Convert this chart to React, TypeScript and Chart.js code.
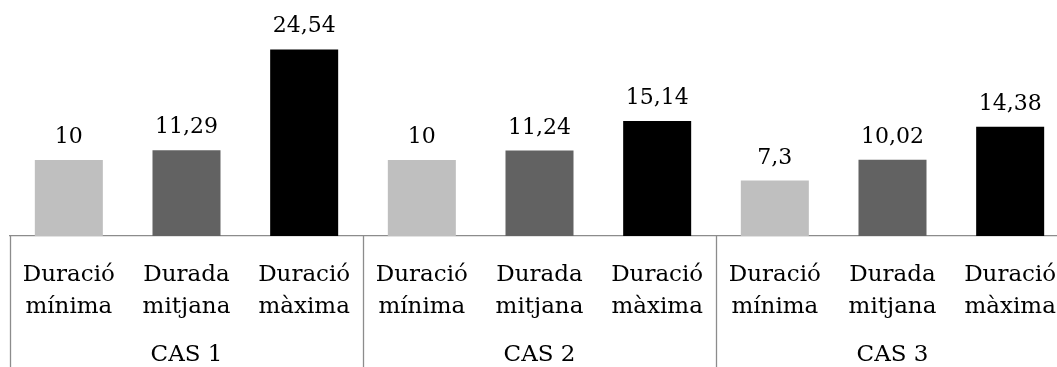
import React, { useEffect, useRef } from "react";
import { Chart, registerables } from "chart.js";

Chart.register(...registerables);

// Bar categories (two-line labels), the cases they belong to and the durations
const categories: string[][] = [
  ["Duració", "mínima"],
  ["Durada", "mitjana"],
  ["Duració", "màxima"],
  ["Duració", "mínima"],
  ["Durada", "mitjana"],
  ["Duració", "màxima"],
  ["Duració", "mínima"],
  ["Durada", "mitjana"],
  ["Duració", "màxima"],
];
const cases: string[] = ["CAS 1", "CAS 2", "CAS 3"];
const durations: number[] = [10, 11.29, 24.54, 10, 11.24, 15.14, 7.3, 10.02, 14.38];
const barColors: string[] = ["#BFBFBF", "#626262", "#000000"];

const FONT = "'DejaVu Serif', serif";
const AXIS_GRAY = "#8c8c8c";

const fmt = (v: number) => String(v).replace(".", ",");

// Value labels above bars and case separators under the axis
const decorations = {
  id: "decorations",
  afterDatasetsDraw(chart: Chart) {
    const ctx = chart.ctx;
    const meta = chart.getDatasetMeta(0);
    ctx.save();
    ctx.font = `22px ${FONT}`;
    ctx.fillStyle = "#000";
    ctx.textAlign = "center";
    ctx.textBaseline = "alphabetic";
    meta.data.forEach((bar: any, i: number) => {
      ctx.fillText(fmt(durations[i]), bar.x, bar.y - 17);
    });
    ctx.restore();
  },
  afterDraw(chart: Chart) {
    const ctx = chart.ctx;
    const x = chart.scales.x;
    const per = categories.length / cases.length;
    const step = x.getPixelForValue(1) - x.getPixelForValue(0);
    ctx.save();
    ctx.strokeStyle = AXIS_GRAY;
    ctx.lineWidth = 1.3;
    for (let g = 0; g <= cases.length; g++) {
      const px = Math.round(x.getPixelForValue(g * per) - step / 2) + 0.5;
      ctx.beginPath();
      ctx.moveTo(px, chart.chartArea.bottom);
      ctx.lineTo(px, chart.height);
      ctx.stroke();
    }
    ctx.restore();
  },
};

export default function App() {
  const canvasRef = useRef<HTMLCanvasElement | null>(null);

  useEffect(() => {
    if (!canvasRef.current) return;
    const chart = new Chart(canvasRef.current, {
      type: "bar",
      data: {
        labels: categories,
        datasets: [
          {
            label: "Durada",
            data: durations,
            backgroundColor: durations.map((_, i) => barColors[i % barColors.length]),
            borderWidth: 0,
            categoryPercentage: 1,
            barPercentage: 0.578,
          },
        ],
      },
      options: {
        responsive: false,
        animation: false,
        devicePixelRatio: 1,
        layout: { padding: { top: 8, left: 10, right: 6, bottom: 0 } },
        plugins: { legend: { display: false }, tooltip: { enabled: false } },
        scales: {
          y: {
            display: false,
            min: 0,
            max: 30,
          },
          x: {
            type: "category",
            position: "bottom",
            grid: { display: false, drawTicks: true, tickLength: 24 },
            border: { display: true, color: AXIS_GRAY, width: 1.3 },
            ticks: {
              color: "#000",
              font: { family: FONT, size: 23, lineHeight: 1.35 },
              padding: 0,
              maxRotation: 0,
              autoSkip: false,
            },
            afterFit: (s: any) => {
              s.height = 90;
            },
          },
          x2: {
            type: "category",
            position: "bottom",
            labels: cases,
            offset: true,
            grid: { display: false, drawTicks: true, tickLength: 14 },
            border: { display: false },
            ticks: {
              color: "#000",
              font: { family: FONT, size: 23, lineHeight: 1.35 },
              padding: 0,
              maxRotation: 0,
              autoSkip: false,
            },
            afterFit: (s: any) => {
              s.height = 41;
            },
          },
        },
      },
      plugins: [decorations],
    });
    return () => chart.destroy();
  }, []);

  return (
    <div
      style={{
        position: "absolute",
        left: 0,
        top: 0,
        width: 1057,
        height: 367,
        overflow: "hidden",
        background: "#fff",
      }}
    >
      <canvas ref={canvasRef} width={1075} height={367} style={{ display: "block" }} />
    </div>
  );
}
